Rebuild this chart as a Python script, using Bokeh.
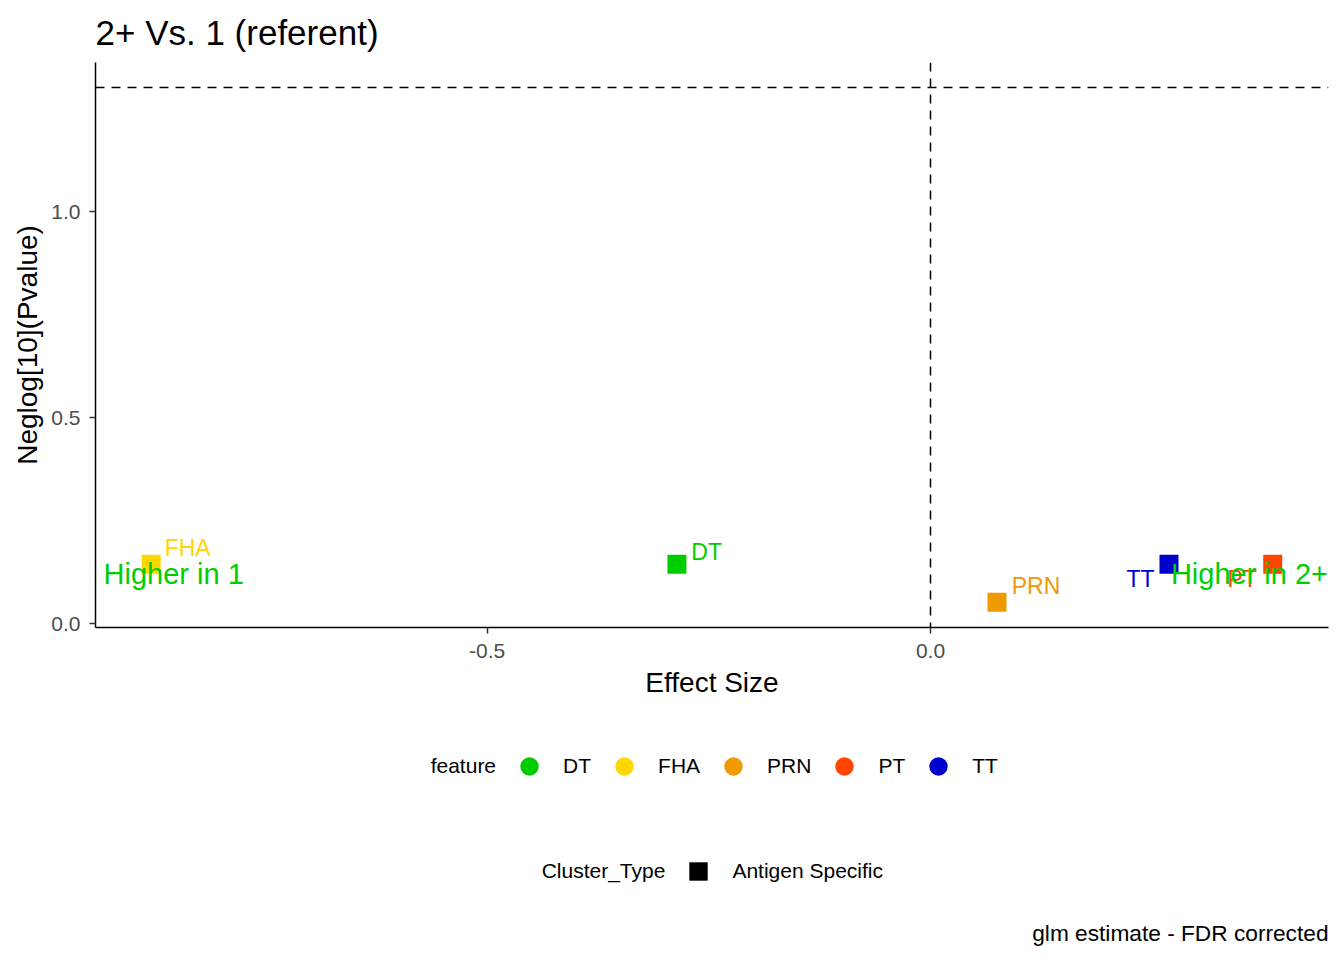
from bokeh.plotting import figure
from bokeh.layouts import column
from bokeh.models import (Range1d, FixedTicker, Span, Legend, LegendItem,
                          ColumnDataSource, Label)
from bokeh.embed import file_html
from bokeh.resources import INLINE
from bokeh.core.properties import value

# ---------------- data ----------------
features = ["DT", "FHA", "PRN", "PT", "TT"]
feature_colors = ["#00CD00", "#FFD700", "#EE9A00", "#FF4500", "#0000CD"]

point_feature = ["FHA", "DT", "PRN", "TT", "PT"]
effect_size = [-0.879, -0.286, 0.075, 0.269, 0.386]
neglog10_p = [0.144, 0.144, 0.052, 0.144, 0.144]
cluster_types = ["Antigen Specific"]

# label placement (screen px offsets from point, as placed by ggrepel)
label_dx = [13.5, 14.4, 14.7, -14.4, -15.8]
label_dy = [-7.3, -3.3, -7.2, 23.4, 23.4]
label_side = ["left", "left", "left", "right", "right"]

annot_text = ["Higher in 1", "Higher in 2+"]
annot_x = [-0.9327, 0.4484]
annot_y = [0.099, 0.099]
annot_align = ["left", "right"]

x_ticks = [-0.5, 0.0]
x_tick_labels = ["-0.5", "0.0"]
y_ticks = [0.0, 0.5, 1.0]
y_tick_labels = ["0.0", "0.5", "1.0"]
x_lim = (-0.9418, 0.4489)
y_lim = (-0.0092, 1.3617)
sig_threshold = 1.301
effect_zero = 0.0

title_text = "2+ Vs. 1 (referent)"
x_label = "Effect Size"
y_label = "Neglog[10](Pvalue)"
caption_text = "glm estimate - FDR corrected"

FONT = "Liberation Sans"
NBSP = "\u00a0"
BASELINE_FIX = -9   # px, svg text baseline correction
color_of = dict(zip(features, feature_colors))

ML, MR, MT, MB = 95, 8, 62, 85
FW, FH = 1233, 565
W = ML + FW + MR
LEG_H = 240

# ---------------- main figure ----------------
p = figure(frame_width=FW, frame_height=FH,
           x_range=Range1d(*x_lim), y_range=Range1d(*y_lim),
           output_backend="svg", toolbar_location=None,
           min_border_left=ML, min_border_right=MR, min_border_top=MT,
           min_border_bottom=MB)
p.outline_line_color = None
p.xgrid.visible = False
p.ygrid.visible = False
p.background_fill_color = "white"
p.border_fill_color = "white"

p.title.text = title_text
p.title.text_font = FONT
p.title.text_font_size = "35px"
p.title.text_font_style = "normal"
p.title.align = "left"
p.title.vertical_align = "top"
p.title.text_color = "black"
p.title.standoff = 18

for ax, ticks, labels in ((p.xaxis[0], x_ticks, x_tick_labels),
                          (p.yaxis[0], y_ticks, y_tick_labels)):
    ax.ticker = FixedTicker(ticks=ticks)
    ax.major_label_overrides = {t: l for t, l in zip(ticks, labels)}
    ax.minor_tick_line_color = None
    ax.major_tick_out = 6
    ax.major_tick_in = 0
    ax.major_tick_line_color = "#333333"
    ax.major_tick_line_width = 1.5
    ax.axis_line_color = "black"
    ax.axis_line_width = 1.5
    ax.major_label_text_font = FONT
    ax.major_label_text_font_size = "21px"
    ax.major_label_text_color = "#4D4D4D"
    ax.axis_label_text_font = FONT
    ax.axis_label_text_font_size = "28px"
    ax.axis_label_text_font_style = "normal"
    ax.axis_label_text_color = "black"

p.xaxis.axis_label = x_label
p.yaxis.axis_label = y_label
p.xaxis.major_label_standoff = 10
p.xaxis.axis_label_standoff = 6
p.yaxis.major_label_standoff = 9
p.yaxis.axis_label_standoff = 5

# reference lines
p.add_layout(Span(location=effect_zero, dimension="height", line_color="black",
                  line_width=1.5, line_dash="9 7"))
p.add_layout(Span(location=sig_threshold, dimension="width", line_color="black",
                  line_width=1.5, line_dash="9 7"))

src = ColumnDataSource(dict(
    x=effect_size, y=neglog10_p, feature=point_feature,
    color=[color_of[f] for f in point_feature],
))

# points
p.scatter("x", "y", source=src, marker="square", size=19,
          fill_color="color", line_color=None)

# point labels
for side in ("left", "right"):
    idx = [i for i, s in enumerate(label_side) if s == side]
    s2 = ColumnDataSource(dict(
        x=[effect_size[i] for i in idx], y=[neglog10_p[i] for i in idx],
        text=[point_feature[i] for i in idx],
        color=[color_of[point_feature[i]] for i in idx],
        dx=[label_dx[i] for i in idx],
        dy=[label_dy[i] + BASELINE_FIX for i in idx]))
    p.text("x", "y", text="text", source=s2, x_offset="dx", y_offset="dy",
           text_align=side, text_baseline="alphabetic", text_color="color",
           text_font=value(FONT), text_font_size=value("23px"))

# direction annotations
for t, ax_, ay_, al in zip(annot_text, annot_x, annot_y, annot_align):
    p.text(x=[ax_], y=[ay_], text=[t], text_align=al, text_baseline="alphabetic",
           y_offset=BASELINE_FIX,
           text_color=color_of["DT"], text_font=value(FONT),
           text_font_size=value("29px"))

# ---------------- legend / caption strip ----------------
# (its frame is aligned with the main plot's frame by the column layout)
lf = figure(width=W, height=LEG_H, output_backend="svg", toolbar_location=None,
            x_axis_type=None, y_axis_type=None, min_border=0)
lf.outline_line_color = None
lf.xgrid.visible = False
lf.ygrid.visible = False
lf.border_fill_color = "white"

# helper renderers (the legend draws its own keys; these draw nothing)
circ_r = lf.scatter("x", "y", source=src, marker="circle", size=0,
                    fill_color="color", line_color=None)
blank_r = lf.scatter("x", "y", source=src, marker="circle", size=0,
                     fill_alpha=0, line_alpha=0)
sq_r = lf.scatter("x", "y", source=src, marker="square", size=0,
                  fill_color="black", line_color=None)

def make_legend(items, loc):
    return Legend(items=items, orientation="horizontal", location=loc,
                  glyph_width=46, glyph_height=46, label_standoff=11, spacing=10,
                  padding=0, margin=0, label_width=0,
                  border_line_color=None, background_fill_alpha=0,
                  label_text_font=FONT, label_text_font_size="21px",
                  label_text_color="black")

# legend titles sit inline to the left of the keys (as in ggplot)
feat_items = [LegendItem(label=NBSP * 2 + "feature", renderers=[blank_r], index=0)]
for f in features:
    feat_items.append(LegendItem(label=f, renderers=[circ_r],
                                 index=point_feature.index(f)))

clus_items = [LegendItem(label=NBSP * 2 + "Cluster_Type", renderers=[blank_r], index=0)]
for c in cluster_types:
    clus_items.append(LegendItem(label=c, renderers=[sq_r], index=0))

main_h = MT + FH + MB
leg1 = make_legend(feat_items, (362 - ML, LEG_H - (743 - main_h) - 46))
leg2 = make_legend(clus_items, (473 - ML, LEG_H - (848 - main_h) - 46))
lf.add_layout(leg1, "center")
lf.add_layout(leg2, "center")

cap = Label(x=FW, y=(main_h + LEG_H) - 932, x_units="screen", y_units="screen",
            text=caption_text, text_align="right", text_baseline="middle",
            text_font=FONT, text_font_size="22.7px", text_color="black")
lf.add_layout(cap)

layout = column(p, lf, spacing=0)
open("out.html", "w").write(file_html(layout, INLINE))
